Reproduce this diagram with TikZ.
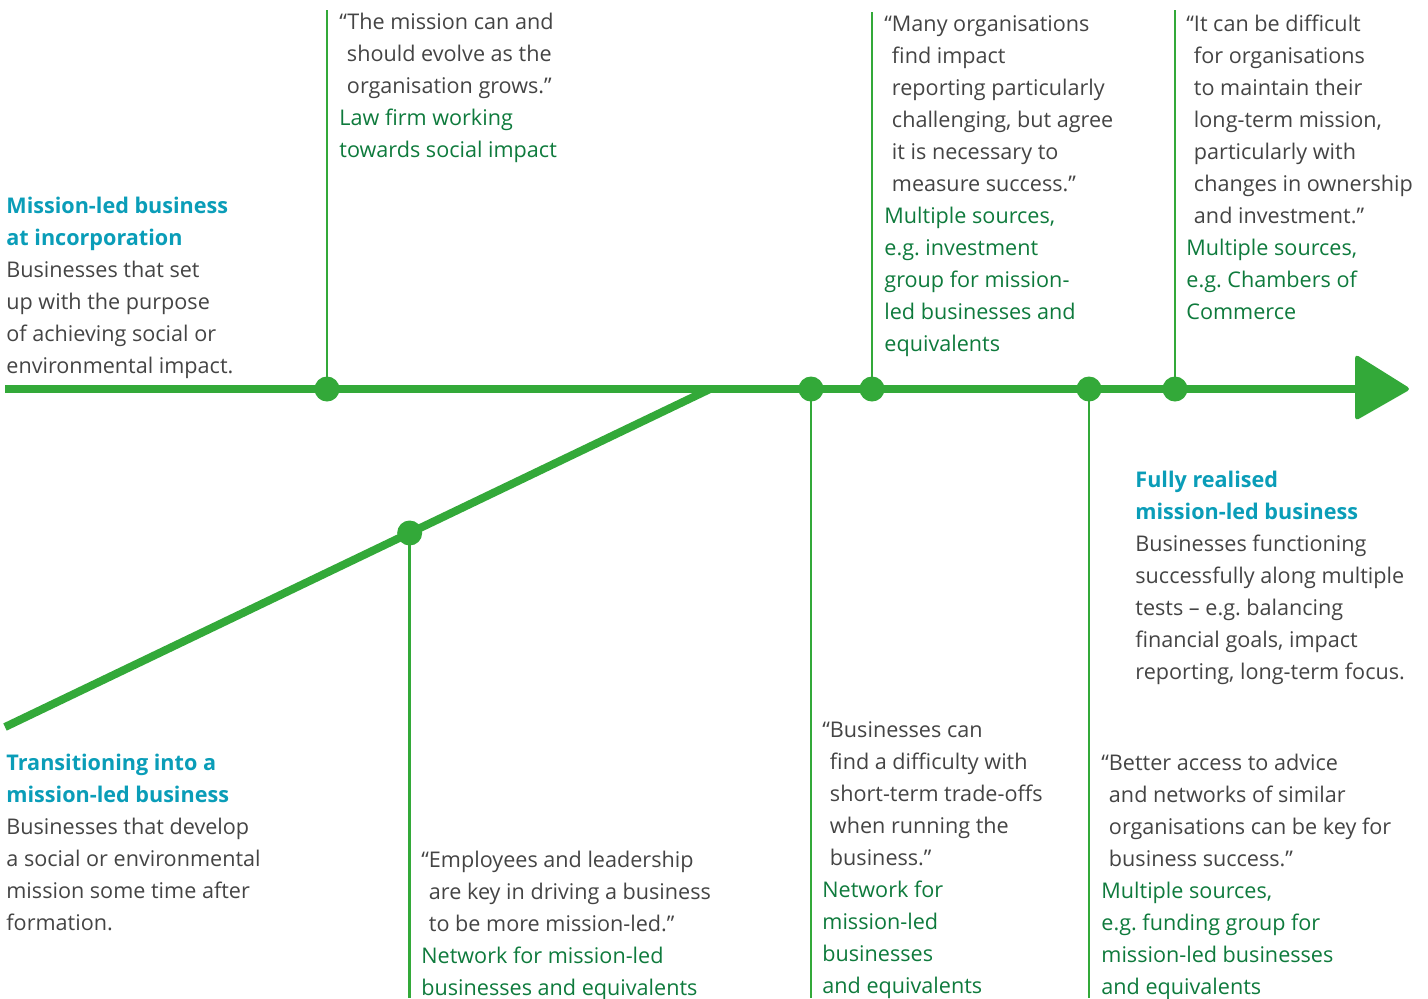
\documentclass[tikz,border=0pt]{standalone}
\usepackage{fontspec}
\setmainfont{Open Sans}
\usepackage{tikz}
\usetikzlibrary{calc,positioning}
\definecolor{lineGreen}{HTML}{33A939}
\definecolor{srcGreen}{HTML}{0E7A3C}
\definecolor{headTeal}{HTML}{0A9DB8}
\definecolor{bodyGrey}{HTML}{444444}
\def\mainy{389}
\def\lineh{32}
\newcommand{\mhead}[1]{\textcolor{headTeal}{\bfseries #1}}
\newcommand{\msrc}[1]{\textcolor{srcGreen}{#1}}
\newcommand{\qi}{\phantom{“}}

\begin{document}
\begin{tikzpicture}[x=0.5pt,y=-0.5pt,font=\fontsize{10.8}{16}\selectfont]
    \tikzstyle{timeline}=[lineGreen, line width=4pt]
    \tikzstyle{stem}=[lineGreen, line width=1.25pt]
    \tikzstyle{dot}=[circle, fill=lineGreen, inner sep=0pt, minimum size=12.5pt]
    % anchored on the baseline of the last line
    \tikzstyle{txt}=[anchor=base west, align=left, inner sep=0pt, text=bodyGrey]

    \useasboundingbox (0,0) rectangle (1428,998);

    % Draw the main timeline and the transition branch
    \coordinate (start) at (5,\mainy);
    \coordinate (base) at (1358,\mainy);
    \coordinate (diag-start) at (5,727);
    \coordinate (diag-end) at (710,\mainy);
    \draw[timeline] (start) -- (base);
    \draw[timeline] (diag-start) -- (diag-end);
    \fill[lineGreen, rounded corners=2pt] (1355,354) -- (1411,\mainy) -- (1355,421) -- cycle;

    % Draw the stem ends
    \foreach \name / \x / \y in {1/327/10, 4/873/12, 6/1175/10, 2/409/998, 3/810/998, 5/1088/998}
        \coordinate (S-\name) at (\x,\y);

    % Draw the milestone dots
    \foreach \name / \x in {1/327, 3/811, 4/872, 5/1089, 6/1175}
        \node[dot] (M-\name) at (\x,\mainy) {};
    \node[dot] (M-2) at ($(diag-start)!0.574!(diag-end)$) {};

    % Draw the stems
    \foreach \name in {1,...,6}
        \draw[stem] (M-\name.center) -- (M-\name.center |- S-\name);

    % Stage descriptions
    \node[txt] (stage-1) at (6,{213+5*\lineh}) {\mhead{Mission-led business}\\\mhead{at incorporation}\\Businesses that set\\up with the purpose\\of achieving social or\\environmental impact.};
    \node[txt] (stage-2) at (6,{770+5*\lineh}) {\mhead{Transitioning into a}\\\mhead{mission-led business}\\Businesses that develop\\a social or environmental\\mission some time after\\formation.};
    \node[txt] (stage-3) at (1135,{487+6*\lineh}) {\mhead{Fully realised}\\\mhead{mission-led business}\\Businesses functioning\\successfully along multiple\\tests -- e.g.\ balancing\\financial goals, impact\\reporting, long-term focus.};

    % Quotes above the line
    \node[txt] (Q-1) at (339,{29+4*\lineh}) {“The mission can and\\\qi should evolve as the\\\qi organisation grows.”\\\msrc{Law firm working}\\\msrc{towards social impact}};
    \node[txt] (Q-4) at (884,{31+10*\lineh}) {“Many organisations\\\qi find impact\\\qi reporting particularly\\\qi challenging, but agree\\\qi it is necessary to\\\qi measure success.”\\\msrc{Multiple sources,}\\\msrc{e.g.\ investment}\\\msrc{group for mission-}\\\msrc{led businesses and}\\\msrc{equivalents}};
    \node[txt] (Q-6) at (1186,{31+9*\lineh}) {“It can be difficult\\\qi for organisations\\\qi to maintain their\\\qi long-term mission,\\\qi particularly with\\\qi changes in ownership\\\qi and investment.”\\\msrc{Multiple sources,}\\\msrc{e.g.\ Chambers of}\\\msrc{Commerce}};

    % Quotes below the line
    \node[txt] (Q-2) at (421,{867+4*\lineh}) {“Employees and leadership\\\qi are key in driving a business\\\qi to be more mission-led.”\\\msrc{Network for mission-led}\\\msrc{businesses and equivalents}};
    \node[txt] (Q-3) at (822,{737+8*\lineh}) {“Businesses can\\\qi find a difficulty with\\\qi short-term trade-offs\\\qi when running the\\\qi business.”\\\msrc{Network for}\\\msrc{mission-led}\\\msrc{businesses}\\\msrc{and equivalents}};
    \node[txt] (Q-5) at (1101,{770+7*\lineh}) {“Better access to advice\\\qi and networks of similar\\\qi organisations can be key for\\\qi business success.”\\\msrc{Multiple sources,}\\\msrc{e.g.\ funding group for}\\\msrc{mission-led businesses}\\\msrc{and equivalents}};
\end{tikzpicture}
\end{document}
